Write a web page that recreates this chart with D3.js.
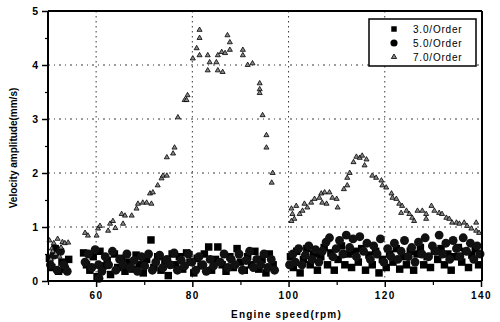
<!DOCTYPE html>
<html>
<head>
<meta charset="utf-8">
<script src="https://cdn.jsdelivr.net/npm/d3@7"></script>
<style>
  html, body { margin: 0; padding: 0; background: #fff; }
  svg { display: block; }
  text { font-family: "Liberation Sans", Arial, sans-serif; font-weight: bold; fill: #000; }
</style>
</head>
<body>
<svg id="chart" width="500" height="322"></svg>
<script>
// Order amplitude samples: [engine speed (rpm), velocity amplitude (mm/s)]
const order3 = [
  [50.3,0.42],[50.8,0.25],[51.5,0.6],[52.2,0.18],[52.9,0.35],[53.6,0.22],[54.3,0.4],
  [57.4,0.52],[58.0,0.3],[58.7,0.2],[59.4,0.45],[60.2,0.08],[60.8,0.55],[61.5,0.28],[62.3,0.38],
  [63.0,0.12],[63.8,0.5],[64.5,0.25],[65.3,0.42],[66.0,0.18],[66.8,0.35],[67.5,0.22],[68.3,0.48],
  [69.0,0.3],[69.8,0.15],[70.5,0.4],[71.4,0.76],[72.0,0.25],[72.8,0.45],[73.5,0.2],[74.3,0.38],
  [75.0,0.1],[75.8,0.5],[76.5,0.3],[77.3,0.45],[78.0,0.22],[78.8,0.52],[79.5,0.35],[80.3,0.15],
  [81.0,0.42],[81.8,0.28],[82.5,0.5],[83.4,0.63],[84.0,0.2],[84.8,0.4],[85.3,0.63],[86.2,0.3],
  [87.0,0.18],[87.8,0.45],[88.5,0.25],[89.3,0.6],[90.0,0.35],[90.8,0.2],[91.5,0.45],[92.3,0.3],
  [93.0,0.55],[93.8,0.22],[94.5,0.4],[95.3,0.15],[96.0,0.5],[96.8,0.3],
  [100.4,0.45],[101.0,0.25],[101.7,0.55],[102.4,0.15],[103.1,0.4],[103.8,0.6],[104.5,0.3],
  [105.2,0.5],[106.0,0.2],[106.7,0.45],[107.4,0.62],[108.1,0.3],[108.8,0.52],[109.5,0.2],
  [110.3,0.4],[111.0,0.65],[111.7,0.3],[112.4,0.5],[113.1,0.25],[113.8,0.55],[114.5,0.35],
  [115.2,0.6],[116.0,0.2],[116.7,0.48],[117.4,0.3],[118.1,0.55],[118.8,0.15],[119.5,0.4],
  [120.3,0.25],[121.0,0.5],[121.7,0.35],[122.4,0.6],[123.1,0.22],[123.8,0.45],[124.5,0.3],
  [125.3,0.55],[126.0,0.2],[126.7,0.5],[127.4,0.62],[128.1,0.3],[128.8,0.45],[129.5,0.25],
  [130.3,0.55],[131.0,0.4],[131.7,0.6],[132.4,0.3],[133.1,0.5],[133.8,0.2],[134.5,0.45],
  [135.3,0.62],[136.0,0.35],[136.7,0.55],[137.4,0.25],[138.1,0.48],[138.8,0.6],[139.5,0.3]
];

const order5 = [
  [50.5,0.3],[51.2,0.48],[51.9,0.2],[52.6,0.55],[53.3,0.3],[54.0,0.18],
  [57.7,0.35],[58.4,0.5],[59.1,0.25],[59.8,0.58],[60.5,0.3],[60.6,0.05],[61.2,0.18],[61.9,0.45],
  [62.6,0.3],[63.4,0.55],[64.1,0.2],[64.9,0.4],[65.6,0.3],[66.4,0.5],[67.1,0.25],[67.9,0.38],
  [68.6,0.18],[69.4,0.45],[70.1,0.28],[70.9,0.5],[71.7,0.2],[72.4,0.35],[73.2,0.48],[73.9,0.25],
  [74.7,0.4],[75.4,0.3],[76.2,0.52],[76.9,0.2],[77.7,0.38],[78.4,0.28],[79.2,0.5],[79.9,0.35],
  [80.7,0.2],[81.4,0.45],[82.2,0.3],[82.9,0.18],[83.7,0.4],[84.4,0.28],[85.8,0.35],[86.6,0.5],
  [87.4,0.25],[88.1,0.4],[88.9,0.3],[89.7,0.5],[90.4,0.2],[91.2,0.38],[91.9,0.55],[92.7,0.25],
  [93.4,0.4],[94.2,0.3],[94.9,0.5],[95.7,0.25],[96.4,0.4],[97.1,0.2],
  [100.2,0.3],[100.9,0.5],[101.4,0.35],[102.1,0.6],[102.8,0.3],[103.5,0.48],[104.2,0.65],
  [104.9,0.4],[105.6,0.58],[106.3,0.35],[107.0,0.55],[107.8,0.72],[108.5,0.8],[109.2,0.45],
  [109.9,0.6],[110.6,0.75],[111.3,0.5],[112.0,0.85],[112.7,0.62],[113.4,0.78],[114.1,0.45],
  [114.8,0.82],[115.6,0.55],[116.3,0.7],[117.0,0.4],[117.7,0.65],[118.4,0.5],[119.1,0.78],
  [119.8,0.35],[120.6,0.6],[121.3,0.45],[122.0,0.7],[122.7,0.4],[123.4,0.55],[124.1,0.75],
  [124.9,0.45],[125.6,0.62],[126.3,0.35],[127.0,0.72],[127.7,0.5],[128.4,0.8],[129.1,0.45],
  [129.9,0.65],[130.6,0.55],[131.3,0.85],[132.0,0.5],[132.7,0.7],[133.5,0.4],[134.2,0.75],
  [134.9,0.6],[135.6,0.45],[136.3,0.8],[137.0,0.55],[137.8,0.7],[138.5,0.4],[139.2,0.65],[139.8,0.5]
];

const order7 = [
  [50.3,0.75],[50.6,0.4],[50.8,0.6],[51.0,0.55],[51.2,0.7],[51.6,0.5],[52.0,0.78],[52.4,0.45],
  [52.7,0.62],[53.0,0.72],[53.5,0.7],[54.2,0.71],
  [57.7,0.89],[58.3,0.84],[60.1,0.84],[60.4,0.97],[60.8,1.02],[62.5,0.93],[62.9,1.06],[63.5,1.11],
  [64.0,0.98],[65.3,1.24],[65.6,1.06],[66.0,1.21],[67.4,1.21],[68.4,1.34],[68.7,1.43],[69.7,1.45],
  [70.5,1.45],[71.2,1.62],[71.5,1.43],[71.8,1.64],[72.8,1.77],[73.6,1.9],[73.9,1.95],[74.7,1.95],
  [74.7,2.29],[76.0,2.36],[76.3,2.47],[77.0,3.03],[78.4,3.35],[78.8,3.35],[79.0,3.44],[80.1,4.12],
  [80.9,4.31],[81.5,4.5],[81.5,4.65],[81.5,4.18],[83.2,4.18],[83.6,4.05],[83.2,3.9],[85.3,4.18],
  [85.0,4.05],[85.3,3.9],[86.1,4.24],[86.3,3.87],[86.8,4.22],[87.3,4.55],[87.8,4.42],[87.8,4.28],
  [90.5,4.28],[90.5,4.18],[91.5,4.0],[92.5,4.03],[94.0,3.66],[94.0,3.55],[94.0,3.48],[94.6,3.07],
  [95.4,2.7],[95.4,2.47],[96.5,1.82],[96.7,2.0],
  [100.6,1.34],[100.8,1.24],[101.2,1.15],[100.6,1.11],[101.6,1.39],[102.3,1.24],[102.9,1.3],
  [103.3,1.43],[103.9,1.36],[104.7,1.45],[105.4,1.52],[106.4,1.54],[106.8,1.62],[107.5,1.64],
  [107.0,1.45],[107.9,1.43],[108.5,1.64],[109.1,1.54],[110.0,1.52],[110.2,1.36],[111.5,1.7],
  [112.2,1.91],[112.7,2.0],[112.2,1.77],[113.5,2.2],[114.1,2.3],[114.8,2.28],[115.3,2.32],
  [115.8,2.14],[116.2,2.25],[117.4,1.95],[118.2,1.91],[119.3,1.86],[119.5,1.77],[120.3,1.73],
  [121.4,1.62],[121.6,1.54],[122.4,1.52],[123.0,1.43],[123.6,1.39],[123.4,1.26],[124.5,1.3],
  [125.1,1.24],[125.7,1.17],[126.1,1.11],[126.8,1.3],[127.8,1.3],[128.6,1.24],[128.6,1.15],
  [129.7,1.39],[130.3,1.3],[131.3,1.26],[131.9,1.24],[132.8,1.17],[133.4,1.15],[134.0,1.08],
  [134.9,1.08],[135.5,1.06],[136.5,1.08],[137.1,1.02],[138.0,0.97],[139.0,1.08],[139.0,0.93],[139.6,0.89]
];

const seriesNames = ["3.0/Order", "5.0/Order", "7.0/Order"];
const xTicks = [60, 80, 100, 120, 140];
const yTicks = [0, 1, 2, 3, 4, 5];
const xTitle = "Engine speed(rpm)";
const yTitle = "Velocity amplitude(mm/s)";

const svg = d3.select("#chart");
const plotLeft = 48, plotRight = 481, plotTop = 11, plotBottom = 281;

const x = d3.scaleLinear().domain([50, 140]).range([plotLeft, plotRight]);
const y = d3.scaleLinear().domain([0, 5]).range([plotBottom, plotTop]);

// dotted grid
const grid = svg.append("g");
grid.selectAll(".gx").data([60, 80, 100, 120]).enter().append("line")
  .attr("x1", d => x(d)).attr("x2", d => x(d))
  .attr("y1", plotTop).attr("y2", plotBottom)
  .attr("stroke", "#222").attr("stroke-width", 0.9).attr("stroke-dasharray", "1.5,3.5");
grid.selectAll(".gy").data([1, 2, 3, 4]).enter().append("line")
  .attr("x1", plotLeft).attr("x2", plotRight)
  .attr("y1", d => y(d)).attr("y2", d => y(d))
  .attr("stroke", "#222").attr("stroke-width", 0.9).attr("stroke-dasharray", "2,4,1,4");

const plot = svg.append("g");

// 3.0 order: filled squares
plot.selectAll(".o3").data(order3).enter().append("path")
  .attr("transform", d => `translate(${x(d[0])},${y(d[1])})`)
  .attr("d", d3.symbol().type(d3.symbolSquare).size(56))
  .attr("fill", "#000");

// 5.0 order: filled circles
plot.selectAll(".o5").data(order5).enter().append("path")
  .attr("transform", d => `translate(${x(d[0])},${y(d[1])})`)
  .attr("d", d3.symbol().type(d3.symbolCircle).size(62))
  .attr("fill", "#111");

// 7.0 order: small outlined triangles
plot.selectAll(".o7").data(order7).enter().append("path")
  .attr("transform", d => `translate(${x(d[0])},${y(d[1])})`)
  .attr("d", d3.symbol().type(d3.symbolTriangle).size(11))
  .attr("fill", "#888").attr("stroke", "#000").attr("stroke-width", 0.8);

// axes
const xAxis = d3.axisBottom(x).tickValues(xTicks).tickFormat(d3.format("d"))
  .tickSize(6).tickSizeOuter(0).tickPadding(5);
const gx = svg.append("g").attr("transform", `translate(0,${plotBottom})`).call(xAxis);
gx.select(".domain").attr("stroke-width", 2).attr("d", `M${plotLeft},0H${plotRight}`);
gx.selectAll(".tick line").attr("stroke-width", 1.5);
gx.selectAll("text").style("font-size", "10px").style("letter-spacing", "1.5px");

const xMinor = d3.axisBottom(x).tickValues([50, 70, 90, 110, 130]).tickSize(4).tickFormat("");
const gxm = svg.append("g").attr("transform", `translate(0,${plotBottom})`).call(xMinor);
gxm.select(".domain").remove();
gxm.selectAll(".tick line").attr("stroke-width", 1.2);

const yAxis = d3.axisLeft(y).tickValues(yTicks).tickFormat(d3.format("d"))
  .tickSize(6).tickSizeOuter(0).tickPadding(4);
const gy = svg.append("g").attr("transform", `translate(${plotLeft},0)`).call(yAxis);
gy.select(".domain").attr("stroke-width", 2).attr("d", `M0,${plotBottom}V${plotTop}`);
gy.selectAll(".tick line").attr("stroke-width", 1.5);
gy.selectAll("text").style("font-size", "10.5px");

const yMinor = d3.axisLeft(y).tickValues([0.5, 1.5, 2.5, 3.5, 4.5]).tickSize(3).tickFormat("");
const gym = svg.append("g").attr("transform", `translate(${plotLeft},0)`).call(yMinor);
gym.select(".domain").remove();
gym.selectAll(".tick line").attr("stroke-width", 1.2);

// frame top and right
svg.append("line").attr("x1", plotLeft).attr("x2", plotRight + 1).attr("y1", plotTop).attr("y2", plotTop)
  .attr("stroke", "#000").attr("stroke-width", 2);
svg.append("line").attr("x1", plotRight + 1).attr("x2", plotRight + 1).attr("y1", plotTop).attr("y2", plotBottom)
  .attr("stroke", "#000").attr("stroke-width", 2);

// axis titles
svg.append("text").attr("x", (plotLeft + plotRight) / 2 + 22).attr("y", 318)
  .attr("text-anchor", "middle").style("font-size", "10px").style("letter-spacing", "1.2px")
  .text(xTitle);
svg.append("text")
  .attr("transform", `translate(17,148) rotate(-90)`)
  .attr("text-anchor", "middle").style("font-size", "10px")
  .text(yTitle);

// legend
const lg = svg.append("g");
lg.append("rect").attr("x", 369).attr("y", 19).attr("width", 107).attr("height", 47)
  .attr("fill", "#fff").attr("stroke", "#000").attr("stroke-width", 1.5);
const legendSymbols = [d3.symbolSquare, d3.symbolCircle, d3.symbolTriangle];
const legendSizes = [30, 40, 12];
seriesNames.forEach((name, i) => {
  const cy = 29 + i * 14;
  lg.append("path").attr("transform", `translate(394,${cy})`)
    .attr("d", d3.symbol().type(legendSymbols[i]).size(legendSizes[i]))
    .attr("fill", i === 2 ? "#888" : "#000")
    .attr("stroke", i === 2 ? "#000" : "none").attr("stroke-width", 0.8);
  lg.append("text").attr("x", 413).attr("y", cy + 4)
    .style("font-size", "10px").style("font-weight", "normal").style("letter-spacing", "0.8px")
    .text(name);
});
</script>
</body>
</html>
